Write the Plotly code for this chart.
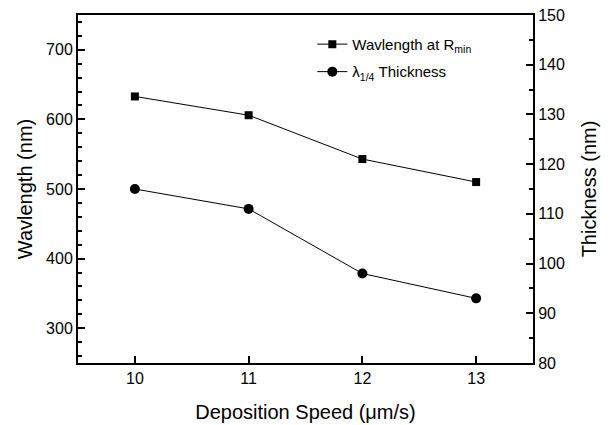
import plotly.graph_objects as go

speed = [10, 11, 12, 13]
wavelength = [633, 606, 543, 510]
thickness = [115, 111, 98, 93]

left_ticks = [300, 400, 500, 600, 700]
right_ticks = [80, 90, 100, 110, 120, 130, 140, 150]
x_ticks = [10, 11, 12, 13]

FONT = "Arial, Liberation Sans, sans-serif"

fig = go.Figure()
fig.add_trace(go.Scatter(
    x=speed, y=wavelength, mode="lines+markers",
    name="Wavlength at R<sub>min</sub>",
    line=dict(color="black", width=1),
    marker=dict(symbol="square", size=8, color="black"),
    legendgroup="a",
))
fig.add_trace(go.Scatter(
    x=speed, y=thickness, mode="lines+markers",
    name="λ<sub>1/4</sub> Thickness",
    line=dict(color="black", width=1),
    marker=dict(symbol="circle", size=10, color="black"),
    yaxis="y2", legendgroup="b",
))

axis_common = dict(
    showline=True, linecolor="black", linewidth=2,
    ticks="inside", ticklen=7, tickwidth=1.5, tickcolor="black",
    showgrid=False, zeroline=False, automargin=False,
    tickfont=dict(family=FONT, size=16, color="black"),
)

fig.update_layout(
    width=611, height=425,
    margin=dict(l=78, r=78, t=15, b=62),
    paper_bgcolor="white", plot_bgcolor="white",
    font=dict(family=FONT, color="black"),
    showlegend=True,
    legend=dict(
        x=0.515, y=0.963, xanchor="left", yanchor="top",
        bgcolor="rgba(0,0,0,0)", font=dict(family=FONT, size=15, color="black"),
        traceorder="grouped", tracegroupgap=5,
    ),
    xaxis=dict(
        **axis_common, range=[9.5, 13.5], tickvals=x_ticks,
        mirror=True,
        title=dict(text="Deposition Speed (μm/s)", font=dict(family=FONT, size=20, color="black"), standoff=19),
    ),
    yaxis=dict(
        **axis_common, range=[250, 750], tickvals=left_ticks,
        minor=dict(dtick=20, tick0=0, ticks="inside", ticklen=4, tickcolor="black", tickwidth=1.5),
        title=dict(text="Wavlength (nm)", font=dict(family=FONT, size=20, color="black"), standoff=8),
    ),
    yaxis2=dict(
        **axis_common, range=[80, 150], tickvals=right_ticks,
        overlaying="y", side="right",
        minor=dict(dtick=5, tick0=0, ticks="inside", ticklen=4, tickcolor="black", tickwidth=1.5),
        title=dict(text="Thickness (nm)", font=dict(family=FONT, size=20, color="black"), standoff=18),
    ),
)

fig.write_html("out.html")
